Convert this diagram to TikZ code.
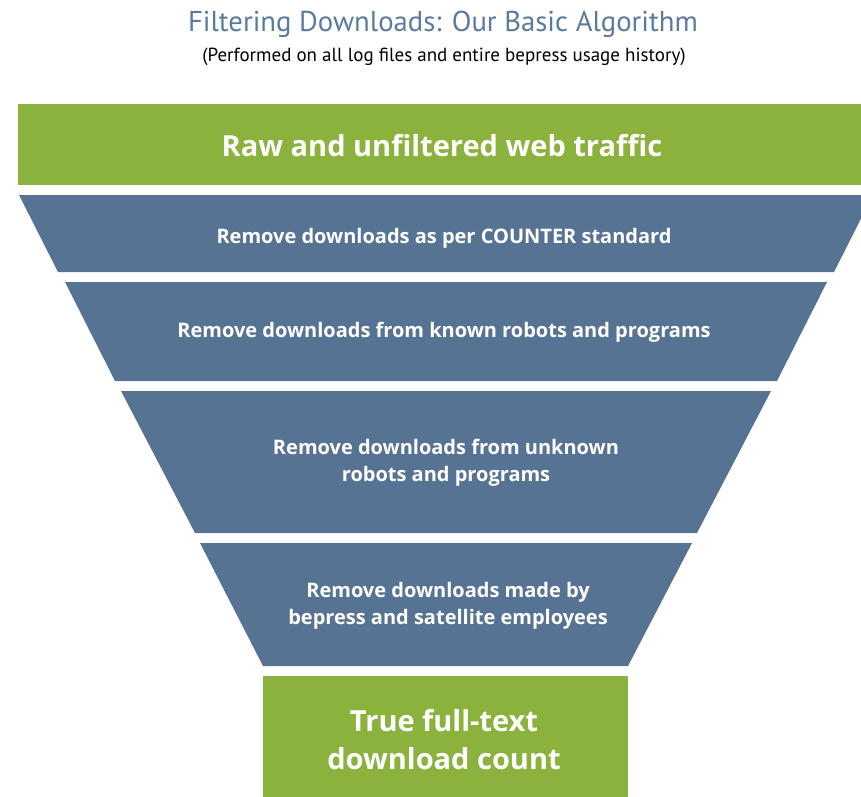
\documentclass[tikz,border=0pt]{standalone}
\usepackage{fontspec}
\setmainfont{PT Sans}
\newfontfamily\boldfam{Open Sans}
\definecolor{fgreen}{RGB}{140,178,62}
\definecolor{fblue}{RGB}{87,115,148}
\definecolor{ftitle}{RGB}{90,122,158}
\begin{document}
\begin{tikzpicture}[x=1pt,y=-1pt,
  layer/.style={fill=fblue, draw=none},
  gbox/.style={fill=fgreen, draw=none},
  lbl/.style={text=white, font=\boldfam\bfseries\fontsize{20}{27}\selectfont, align=center},
  glbl/.style={text=white, font=\boldfam\bfseries\fontsize{29}{38}\selectfont, align=center}]
\useasboundingbox (0,0) rectangle (861,796);
% title
\node[text=ftitle, font=\fontsize{28.7}{32}\selectfont] (title) at (443,24) {Filtering Downloads: Our Basic Algorithm};
\node[text=black, font=\fontsize{19}{22}\selectfont] (sub) at (444,57) {(Performed on all log files and entire bepress usage history)};
% top green bar
\fill[gbox] (18,104) rectangle (874,185);
\node[glbl] (raw) at (442,146) {Raw and unfiltered web traffic};
% funnel layers
\fill[layer] (19,195) -- (873,195) -- (834,272) -- (58,272) -- cycle;
\node[lbl] (l1) at (444,238) {Remove downloads as per COUNTER standard};
\fill[layer] (65,282) -- (827,282) -- (777,381) -- (115,381) -- cycle;
\node[lbl] (l2) at (444,332) {Remove downloads from known robots and programs};
\fill[layer] (121,391) -- (771,391) -- (697,533) -- (195,533) -- cycle;
\node[lbl] (l3) at (446,463) {Remove downloads from unknown\\robots and programs};
\fill[layer] (200,543) -- (692,543) -- (628,666) -- (263,666) -- cycle;
\node[lbl] (l4) at (448,606) {Remove downloads made by\\bepress and satellite employees};
% bottom green box
\fill[gbox] (263,676) rectangle (628,800);
\node[glbl] (true) at (444,740) {True full-text\\download count};
\end{tikzpicture}
\end{document}
